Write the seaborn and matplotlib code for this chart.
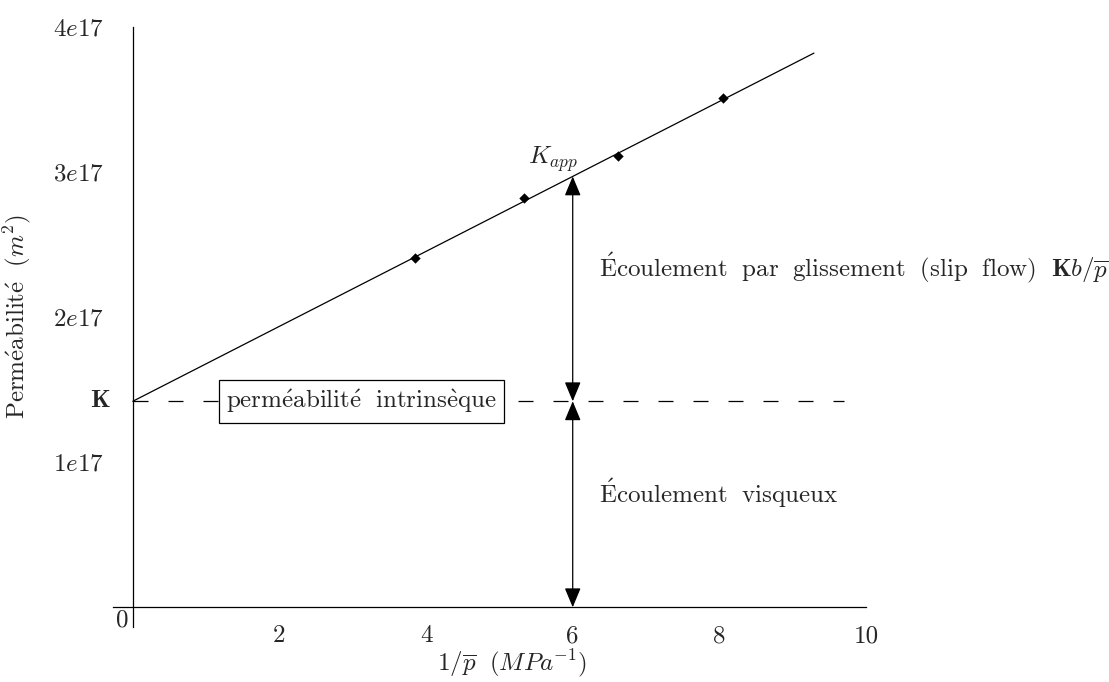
import numpy as np
import pandas as pd
import matplotlib
matplotlib.use("Agg")
import matplotlib.pyplot as plt
import seaborn as sns

# measured points (1/p, apparent permeability)
inv_p = [3.85, 5.33, 6.62, 8.05]
k_app = [2.41e17, 2.82e17, 3.11e17, 3.51e17]

# Klinkenberg fit line
line_x = [0.0, 9.29]
line_y = [1.42e17, 3.82e17]

K = 1.42e17
x_arrow = 6
dash_end = 9.7

x_ticks = [2, 4, 6, 8, 10]
y_ticks = [1e17, 2e17, 3e17, 4e17]
y_labels = ["$1e17$", "$2e17$", "$3e17$", "$4e17$"]

sns.set_theme(style="white")
plt.rcParams["font.family"] = ["cmr10", "DejaVu Serif"]
plt.rcParams["mathtext.fontset"] = "cm"
plt.rcParams["axes.unicode_minus"] = False
plt.rcParams["axes.formatter.use_mathtext"] = True

fs = 18

fig = plt.figure(figsize=(11.09, 6.82), dpi=100)
ax = fig.add_axes([113 / 1109, 55 / 682, 753 / 1109, 600 / 682])

df_pts = pd.DataFrame({"x": inv_p, "y": k_app})
df_line = pd.DataFrame({"x": line_x, "y": line_y})

sns.lineplot(data=df_line, x="x", y="y", color="black", lw=0.9, ax=ax)
sns.scatterplot(data=df_pts, x="x", y="y", marker="D", s=28, color="black",
                edgecolor="black", linewidth=0, ax=ax, zorder=3)

# intrinsic permeability level
ax.plot([0, dash_end], [K, K], color="black", lw=0.9, linestyle=(0, (12, 16)))

k_at_arrow = np.interp(x_arrow, line_x, line_y)
head = "<|-|>,head_length=0.6,head_width=0.25"
for y0, y1 in [(0, K), (K, k_at_arrow)]:
    ax.annotate("", xy=(x_arrow, y0), xytext=(x_arrow, y1),
                arrowprops=dict(arrowstyle=head, color="black", lw=0.9,
                                mutation_scale=20, shrinkA=0, shrinkB=0))

ax.set_xlim(-0.27, 10)
ax.set_ylim(-0.136e17, 4e17)
ax.spines["left"].set_position(("data", 0))
ax.spines["bottom"].set_position(("data", 0))
ax.spines["top"].set_visible(False)
ax.spines["right"].set_visible(False)
for s in ["left", "bottom"]:
    ax.spines[s].set_color("black")
    ax.spines[s].set_linewidth(0.9)

ax.set_xticks(x_ticks)
ax.set_xticklabels([str(t) for t in x_ticks])
ax.set_yticks(y_ticks)
ax.set_yticklabels(y_labels)
ax.tick_params(axis="both", direction="out", length=12, width=0.9,
               color="black", labelsize=fs)
ax.tick_params(axis="y", pad=9)
ax.tick_params(axis="x", pad=1)

ax.set_xlabel(r"$1/\overline{p}\ \ (MPa^{-1})$", fontsize=fs)
ax.set_ylabel(r"$\mathrm{Perm\acute{e}abilit\acute{e}}\ \ (m^2)$", fontsize=fs)
ax.xaxis.set_label_coords(0.53, -0.033)
ax.yaxis.set_label_coords(-0.106, 0.517)

ax.text(-0.30, K, r"$\mathbf{K}$", ha="right", va="center", fontsize=fs)
ax.text(-0.055, -0.014e17, "0", ha="right", va="top", fontsize=fs)
ax.text(3.12, K, r"$\mathrm{perm\acute{e}abilit\acute{e}\ \ intrins\grave{e}que}$",
        ha="center", va="center", fontsize=fs, zorder=5,
        bbox=dict(boxstyle="square,pad=0.3", fc="white", ec="black", lw=0.9))
ax.text(6.07, 2.99e17, r"$K_{app}$", ha="right", va="bottom", fontsize=fs)
ax.text(6.36, 2.34e17,
        r"$\mathrm{\acute{E}coulement\ \ par\ \ glissement\ \ (slip\ \ flow)}\ \ \mathbf{K}b/\overline{p}$",
        ha="left", va="center", fontsize=fs, clip_on=False)
ax.text(6.36, 0.79e17, r"$\mathrm{\acute{E}coulement\ \ visqueux}$",
        ha="left", va="center", fontsize=fs)

ax.set_facecolor("white")
fig.patch.set_facecolor("white")
fig.savefig("out.png", dpi=100)
